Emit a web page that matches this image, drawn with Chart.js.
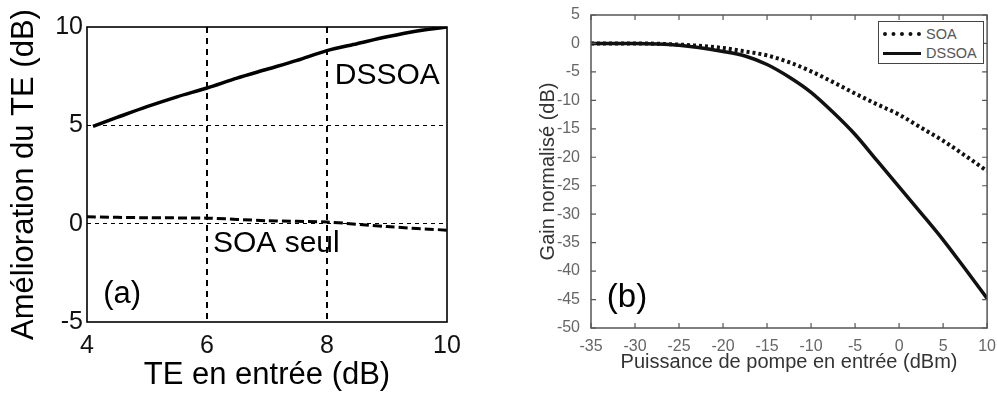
<!DOCTYPE html>
<html>
<head>
<meta charset="utf-8">
<script src="https://cdn.jsdelivr.net/npm/chart.js@4.4.1/dist/chart.umd.min.js"></script>
<style>
  body { margin: 0; background: #fff; width: 997px; height: 394px; overflow: hidden; position: relative; font-family: "Liberation Sans", Arial, sans-serif; }
  .panel { position: absolute; top: 0; }
  #legendB { position: absolute; left: 878px; top: 21px; width: 106px; height: 43px; border: 1px solid #444; background: #fff; box-sizing: border-box; }
  .row { position: absolute; left: 0; height: 18px; width: 104px; }
  .row .ln { position: absolute; left: 4px; top: 8px; width: 38px; }
  .row .tx { position: absolute; left: 47px; top: 0; font-size: 14.5px; line-height: 18px; color: #555; }
</style>
</head>
<body>
<div class="panel" style="left:0;width:470px;height:394px"><canvas id="chartA" width="470" height="394"></canvas></div>
<div class="panel" style="left:500px;width:497px;height:394px"><canvas id="chartB" width="497" height="394"></canvas></div>
<div id="legendB">
  <div class="row" style="top:3px"><div class="ln" style="border-top:4px dotted #111;top:7px"></div><div class="tx">SOA</div></div>
  <div class="row" style="top:22px"><div class="ln" style="border-top:3px solid #111"></div><div class="tx">DSSOA</div></div>
</div>
<script>
// (a) TE improvement vs input TE
const teIn = [4.1, 4.5, 5, 5.5, 6, 6.5, 7, 7.5, 8, 8.5, 9, 9.5, 10];
const dssoaGain = [4.95, 5.4, 5.95, 6.45, 6.9, 7.4, 7.85, 8.3, 8.8, 9.15, 9.5, 9.8, 10.0];
const teInSoa = [4, 5, 6, 7, 8, 9, 10];
const soaGain = [0.35, 0.3, 0.28, 0.15, 0.08, -0.15, -0.33];

// (b) normalised gain vs pump power
const pump = [-35, -30, -25, -20, -17.5, -15, -12.5, -10, -7.5, -5, -2.5, 0, 2.5, 5, 7.5, 10];
const soaNorm = [0, 0, -0.2, -0.8, -1.4, -2.1, -3.3, -4.9, -6.8, -8.8, -10.7, -12.5, -14.8, -17.1, -19.7, -22.4];
const dssoaNorm = [0, 0, -0.3, -1.4, -2.2, -3.7, -5.9, -8.6, -12.1, -16.0, -20.6, -25.2, -29.8, -34.5, -39.6, -44.8];

const font = '"Liberation Sans", Arial, sans-serif';

function pts(xs, ys) {
  return xs.map((x, i) => ({x: x, y: ys[i]}))
}

// frame + text notes, ticks inside for (b)
const extras = {
  id: 'extras',
  afterDraw(chart, args, opts) {
    const ctx = chart.ctx, a = chart.chartArea;
    ctx.save();
    ctx.strokeStyle = opts.frameColor;
    ctx.lineWidth = opts.frameWidth;
    ctx.strokeRect(a.left, a.top, a.right - a.left, a.bottom - a.top);
    if (opts.innerTicks) {
      ctx.lineWidth = 1.2;
      chart.scales.x.ticks.forEach(t => {
        const px = chart.scales.x.getPixelForValue(t.value);
        ctx.beginPath();
        ctx.moveTo(px, a.bottom); ctx.lineTo(px, a.bottom - 5);
        ctx.moveTo(px, a.top); ctx.lineTo(px, a.top + 5);
        ctx.stroke();
      });
      chart.scales.y.ticks.forEach(t => {
        const py = chart.scales.y.getPixelForValue(t.value);
        ctx.beginPath();
        ctx.moveTo(a.left, py); ctx.lineTo(a.left + 5, py);
        ctx.moveTo(a.right, py); ctx.lineTo(a.right - 5, py);
        ctx.stroke();
      });
    }
    ctx.fillStyle = '#000';
    ctx.textBaseline = 'middle';
    ctx.textAlign = 'left';
    (opts.notes || []).forEach(n => {
      ctx.font = n.size + 'px ' + font;
      ctx.fillText(n.text, chart.scales.x.getPixelForValue(n.x), chart.scales.y.getPixelForValue(n.y));
    });
    ctx.restore();
  }
};

new Chart(document.getElementById('chartA'), {
  type: 'line',
  data: {
    datasets: [
      {label: 'DSSOA', data: pts(teIn, dssoaGain), borderColor: '#000', borderWidth: 3.5, pointRadius: 0, tension: 0.3},
      {label: 'SOA seul', data: pts(teInSoa, soaGain), borderColor: '#000', borderWidth: 3, borderDash: [9, 4], pointRadius: 0, tension: 0.3}
    ]
  },
  options: {
    responsive: false,
    animation: false,
    devicePixelRatio: 1,
    layout: {padding: {left: 0, top: 27, right: 23, bottom: 0}},
    plugins: {
      legend: {display: false},
      tooltip: {enabled: false},
      extras: {
        frameColor: '#000', frameWidth: 1.6,
        notes: [
          {text: 'DSSOA', x: 8.13, y: 7.5, size: 30},
          {text: 'SOA seul', x: 6.1, y: -1.0, size: 30},
          {text: '(a)', x: 4.27, y: -3.6, size: 31}
        ]
      }
    },
    scales: {
      x: {
        type: 'linear', min: 4, max: 10,
        afterFit: s => { s.height = 72 },
        ticks: {stepSize: 2, color: '#111', padding: 9, maxRotation: 0, font: {family: font, size: 25}},
        grid: {drawTicks: false, lineWidth: 2, color: c => (c.tick && (c.tick.value === 6 || c.tick.value === 8)) ? '#000' : 'rgba(0,0,0,0)'},
        border: {display: false, dash: [6, 5]},
        title: {display: true, text: 'TE en entrée (dB)', color: '#000', padding: {top: 0, bottom: 0}, font: {family: font, size: 31, lineHeight: 1.2}}
      },
      y: {
        type: 'linear', min: -5, max: 10,
        afterFit: s => { s.width = 87 },
        ticks: {stepSize: 5, color: '#111', padding: 4, font: {family: font, size: 25}},
        grid: {drawTicks: false, lineWidth: 1, color: c => (c.tick && (c.tick.value === 0 || c.tick.value === 5)) ? '#000' : 'rgba(0,0,0,0)'},
        border: {display: false, dash: [4, 4]},
        title: {display: true, text: 'Amélioration du TE (dB)', color: '#000', padding: {top: 6, bottom: 0}, font: {family: font, size: 31, lineHeight: 1.2}}
      }
    }
  },
  plugins: [extras]
});

new Chart(document.getElementById('chartB'), {
  type: 'line',
  data: {
    datasets: [
      {label: 'SOA', data: pts(pump, soaNorm), borderColor: '#111', borderWidth: 4, borderDash: [3, 3], pointRadius: 0, cubicInterpolationMode: 'monotone'},
      {label: 'DSSOA', data: pts(pump, dssoaNorm), borderColor: '#111', borderWidth: 3.5, pointRadius: 0, cubicInterpolationMode: 'monotone'}
    ]
  },
  options: {
    responsive: false,
    animation: false,
    devicePixelRatio: 1,
    layout: {padding: {left: 0, top: 15, right: 4, bottom: 0}},
    plugins: {
      legend: {display: false},
      tooltip: {enabled: false},
      extras: {
        frameColor: '#555', frameWidth: 1.5, innerTicks: true,
        notes: [{text: '(b)', x: -33.2, y: -44.7, size: 33}]
      }
    },
    scales: {
      x: {
        type: 'linear', min: -35, max: 10,
        afterFit: s => { s.height = 66 },
        ticks: {stepSize: 5, color: '#666', padding: 1, maxRotation: 0, font: {family: font, size: 16}},
        grid: {display: false},
        border: {display: false},
        title: {display: true, text: 'Puissance de pompe en entrée (dBm)', color: '#333', padding: {top: 0, bottom: 20}, font: {family: font, size: 20, lineHeight: 1.2}}
      },
      y: {
        type: 'linear', min: -50, max: 5,
        afterFit: s => { s.width = 91 },
        ticks: {stepSize: 5, color: '#666', padding: 3, font: {family: font, size: 16}},
        grid: {display: false},
        border: {display: false},
        title: {display: true, text: 'Gain normalisé (dB)', color: '#333', padding: {top: 36, bottom: 0}, font: {family: font, size: 20, lineHeight: 1.2}}
      }
    }
  },
  plugins: [extras]
});
</script>
</body>
</html>
